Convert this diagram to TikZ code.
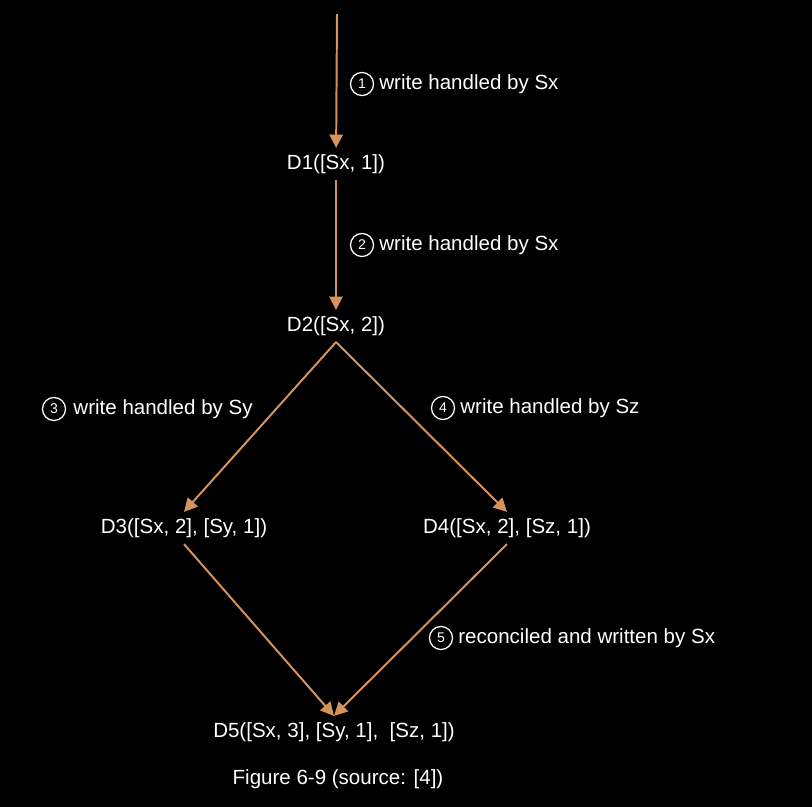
\documentclass[tikz,border=0pt]{standalone}
\usepackage{fontspec}
\setmainfont{Liberation Sans}
\usepackage{tikz}
\usepackage{xcolor}
\usetikzlibrary{arrows.meta, positioning}
\definecolor{cArrow}{RGB}{214,148,92}
\tikzset{
	ver/.style ={rectangle, text=white, inner xsep=2pt, inner ysep=4.5pt, text height=10.5pt, text depth=3pt, font=\fontsize{14.6}{17}\selectfont},
	num/.style ={circle, draw=white, line width=0.9pt, minimum size=16.4pt, inner sep=0pt, text=white, font=\fontsize{10}{12}\selectfont},
	lbl/.style ={rectangle, inner sep=0pt, text=white, font=\fontsize{14.6}{17}\selectfont},
	flow/.style={-{Triangle[length=9.5pt, width=9.5pt]}, line width=1.4pt, cArrow},
}
\begin{document}
\begin{tikzpicture}[x=0.025cm, y=-0.025cm]
	\fill[black] (0,0) rectangle (812,807);
	% versions
	\coordinate (top) at (337,14);
	\node[ver] (d1) at (336,164) {D1([Sx, 1])};
	\node[ver] (d2) at (336,326) {D2([Sx, 2])};
	\node[ver] (d3) at (184,528) {D3([Sx, 2], [Sy, 1])};
	\node[ver] (d4) at (507,528) {D4([Sx, 2], [Sz, 1])};
	\node[ver] (d5) at (334,732) {D5([Sx, 3], [Sy, 1],\ \ [Sz, 1])};
	\node[lbl] (cap) at (338,779) {Figure 6-9 (source: [4])};
	% edges
	\draw[flow] (top) -- (d1);
	\draw[flow] (d1) -- (d2);
	\draw[flow] (d2.south) -- (d3.north);
	\draw[flow] (d2.south) -- (d4.north);
	\draw[flow] (d3.south) -- (d5.north);
	\draw[flow] (d4.south) -- (d5.north);
	% step labels
	\node[num] (n1) at (362,84) {1};
	\node[lbl, right=3.5pt of n1] (t1) {write handled by Sx};
	\node[num] (n2) at (362,245) {2};
	\node[lbl, right=3.5pt of n2] (t2) {write handled by Sx};
	\node[num] (n3) at (54,409) {3};
	\node[lbl, right=5pt of n3] (t3) {write handled by Sy};
	\node[num] (n4) at (443,408) {4};
	\node[lbl, right=3.5pt of n4] (t4) {write handled by Sz};
	\node[num] (n5) at (441,638) {5};
	\node[lbl, right=3.5pt of n5] (t5) {reconciled and written by Sx};
\end{tikzpicture}
\end{document}
